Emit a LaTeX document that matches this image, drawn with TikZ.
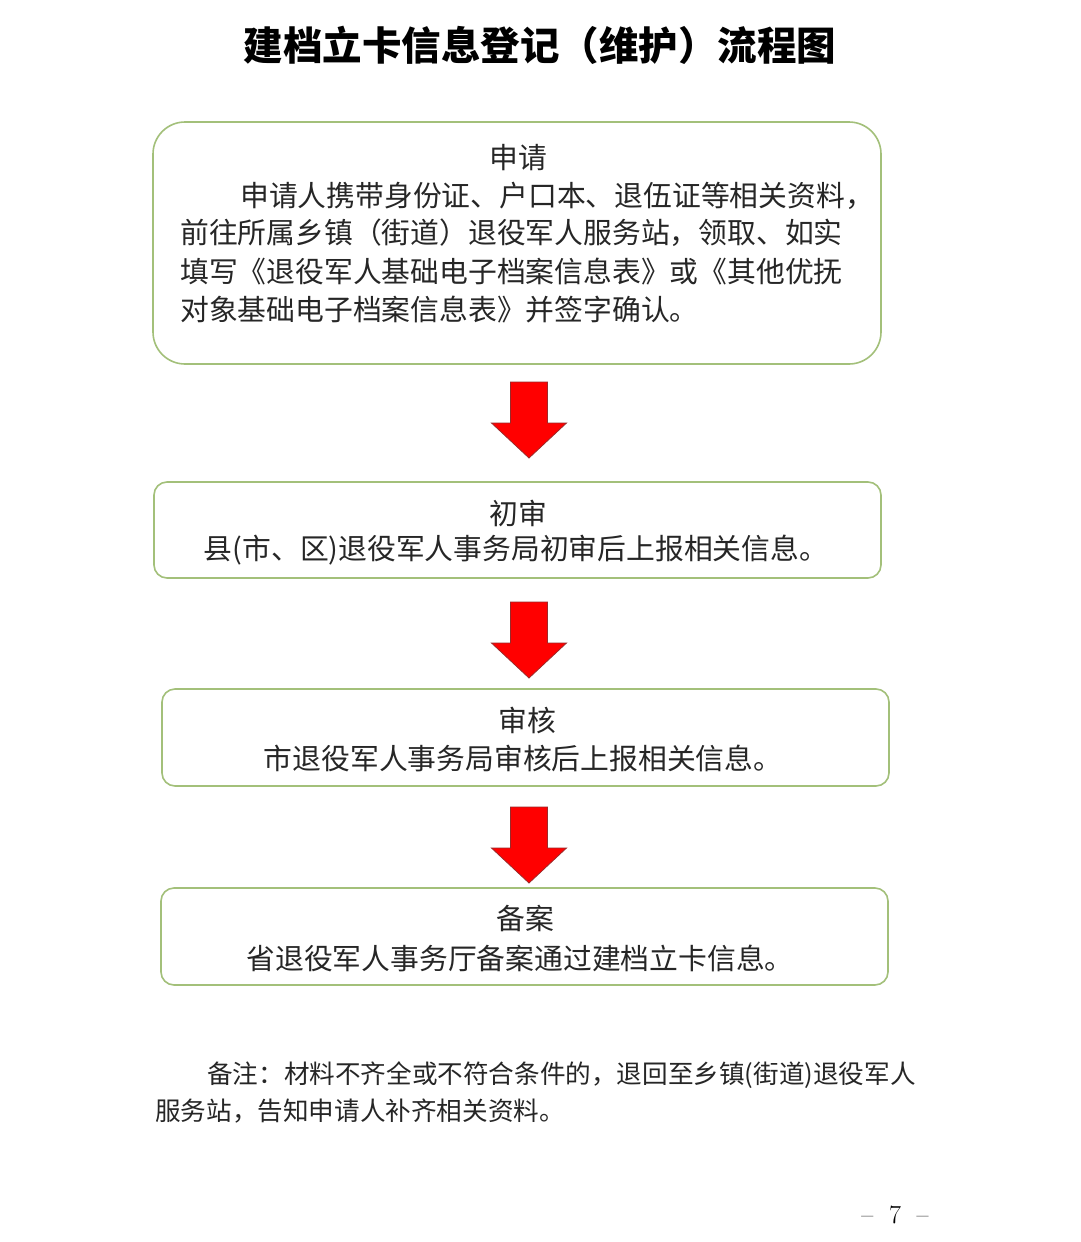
\documentclass[tikz,border=0pt]{standalone}
\usepackage{fontspec}
\newfontfamily\cjk{Noto Sans CJK SC}
\definecolor{boxgreen}{HTML}{A3C07A}
\definecolor{arrowedge}{HTML}{9A2A2A}
\tikzset{
  flowbox/.style={draw=boxgreen, line width=1.6pt, rounded corners=13pt, inner sep=0pt},
  bodytext/.style={inner sep=0pt, font=\cjk\fontsize{28.8}{30}\selectfont, text=black!85},
  notetext/.style={inner sep=0pt, font=\cjk\fontsize{25.6}{27}\selectfont, text=black!85},
  blockarr/.pic={\draw[fill=red, draw=arrowedge, line width=0.8pt]
     (-18.5,0) -- (18.5,0) -- (18.5,41) -- (37.5,41) -- (0,76) -- (-37.5,41) -- (-18.5,41) -- cycle;}
}
\begin{document}
\begin{tikzpicture}[x=1pt, y=-1pt]
\useasboundingbox (0,0) rectangle (1080,1242);
\fill[white] (0,0) rectangle (1080,1242);

% title
\node[inner sep=0pt, font=\cjk\bfseries\fontsize{39.5}{40}\selectfont] (title) at (540,45) {建档立卡信息登记（维护）流程图};

% box 1
\node[flowbox, rounded corners=32pt, minimum width=728pt, minimum height=242pt] (b1) at (517,243) {};
\node[bodytext] (h1) at (518,158) {申请};
\node[bodytext, anchor=west] (l1) at (240,196) {申请人携带身份证、户口本、退伍证等相关资料，};
\node[bodytext, anchor=west] (l2) at (180,233) {前往所属乡镇（街道）退役军人服务站，领取、如实};
\node[bodytext, anchor=west] (l3) at (180,271) {填写《退役军人基础电子档案信息表》或《其他优抚};
\node[bodytext, anchor=west] (l4) at (180,310) {对象基础电子档案信息表》并签字确认。};

% box 2
\node[flowbox, minimum width=727pt, minimum height=96pt] (b2) at (517.5,530) {};
\node[bodytext] (h2) at (518,513) {初审};
\node[bodytext] (t2) at (516,550) {县(市、区)退役军人事务局初审后上报相关信息。};

% box 3
\node[flowbox, minimum width=727pt, minimum height=97pt] (b3) at (525.5,737.5) {};
\node[bodytext] (h3) at (527,720) {审核};
\node[bodytext] (t3) at (523,758) {市退役军人事务局审核后上报相关信息。};

% box 4
\node[flowbox, minimum width=727pt, minimum height=97pt] (b4) at (524.5,936.5) {};
\node[bodytext] (h4) at (525,918) {备案};
\node[bodytext] (t4) at (520,958) {省退役军人事务厅备案通过建档立卡信息。};

% arrows
\pic at (529,382) {blockarr};
\pic at (529,602) {blockarr};
\pic at (529,807) {blockarr};

% note
\node[notetext, anchor=west] (n1) at (207,1075) {备注：材料不齐全或不符合条件的，退回至乡镇(街道)退役军人};
\node[notetext, anchor=west] (n2) at (155,1111) {服务站，告知申请人补齐相关资料。};

% page number
\node[inner sep=0pt, font=\fontsize{26}{26}\selectfont] (pg) at (895,1215) {-- \ 7 \ --};
\end{tikzpicture}
\end{document}
